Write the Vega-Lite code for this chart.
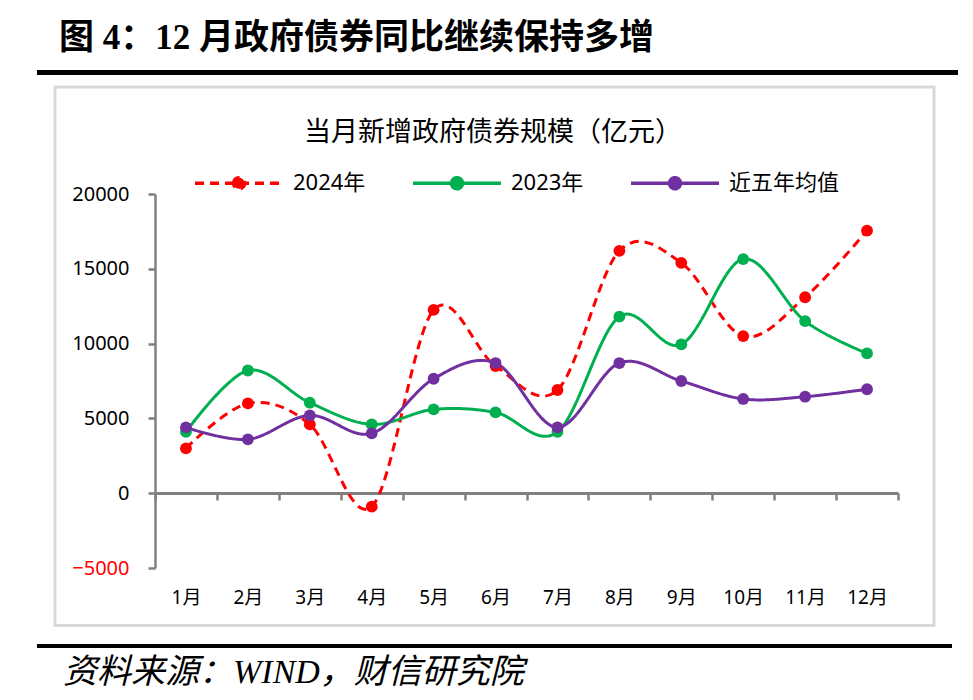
{
  "$schema": "https://vega.github.io/schema/vega-lite/v6.json",
  "description": "当月新增政府债券规模（亿元）",
  "width": 743,
  "height": 374,
  "autosize": {"type": "none"},
  "padding": {"left": 155, "top": 194, "right": 75, "bottom": 132},
  "background": "white",
  "config": {
    "view": {"stroke": null},
    "font": "Noto Sans, Noto Sans CJK SC"
  },
  "datasets": {
    "series": [
      {"月份": "1月", "系列": "2024年", "值": 3000},
      {"月份": "2月", "系列": "2024年", "值": 6000},
      {"月份": "3月", "系列": "2024年", "值": 4600},
      {"月份": "4月", "系列": "2024年", "值": -900},
      {"月份": "5月", "系列": "2024年", "值": 12250},
      {"月份": "6月", "系列": "2024年", "值": 8500},
      {"月份": "7月", "系列": "2024年", "值": 6900},
      {"月份": "8月", "系列": "2024年", "值": 16200},
      {"月份": "9月", "系列": "2024年", "值": 15400},
      {"月份": "10月", "系列": "2024年", "值": 10500},
      {"月份": "11月", "系列": "2024年", "值": 13100},
      {"月份": "12月", "系列": "2024年", "值": 17550},
      {"月份": "1月", "系列": "2023年", "值": 4100},
      {"月份": "2月", "系列": "2023年", "值": 8200},
      {"月份": "3月", "系列": "2023年", "值": 6050},
      {"月份": "4月", "系列": "2023年", "值": 4600},
      {"月份": "5月", "系列": "2023年", "值": 5600},
      {"月份": "6月", "系列": "2023年", "值": 5400},
      {"月份": "7月", "系列": "2023年", "值": 4100},
      {"月份": "8月", "系列": "2023年", "值": 11800},
      {"月份": "9月", "系列": "2023年", "值": 9950},
      {"月份": "10月", "系列": "2023年", "值": 15650},
      {"月份": "11月", "系列": "2023年", "值": 11500},
      {"月份": "12月", "系列": "2023年", "值": 9350},
      {"月份": "1月", "系列": "近五年均值", "值": 4400},
      {"月份": "2月", "系列": "近五年均值", "值": 3600},
      {"月份": "3月", "系列": "近五年均值", "值": 5200},
      {"月份": "4月", "系列": "近五年均值", "值": 4000},
      {"月份": "5月", "系列": "近五年均值", "值": 7650},
      {"月份": "6月", "系列": "近五年均值", "值": 8700},
      {"月份": "7月", "系列": "近五年均值", "值": 4400},
      {"月份": "8月", "系列": "近五年均值", "值": 8700},
      {"月份": "9月", "系列": "近五年均值", "值": 7500},
      {"月份": "10月", "系列": "近五年均值", "值": 6300},
      {"月份": "11月", "系列": "近五年均值", "值": 6450},
      {"月份": "12月", "系列": "近五年均值", "值": 6950}
    ],
    "texts": [
      {"位置": "header", "文本": "图 4：12 月政府债券同比继续保持多增"},
      {"位置": "chart", "文本": "当月新增政府债券规模（亿元）"},
      {"位置": "footer", "文本": "资料来源：WIND，财信研究院"}
    ]
  },
  "layer": [
    {
      "data": {"name": "texts"},
      "layer": [
        {
          "transform": [{"filter": "datum['位置'] == 'chart'"}],
          "mark": {"type": "rect", "fill": "transparent", "stroke": "#d9d9d9", "strokeWidth": 3},
          "encoding": {
            "x": {"datum": -1.115, "type": "quantitative", "scale": {"domain": [0.5, 12.5], "nice": false, "zero": false}, "axis": null},
            "x2": {"datum": 13.081},
            "y": {"datum": 27152, "type": "quantitative"},
            "y2": {"datum": -8844}
          }
        },
        {
          "transform": [{"filter": "datum['位置'] == 'header'"}],
          "mark": {"type": "rule", "stroke": "black", "strokeWidth": 5},
          "encoding": {
            "x": {"datum": -1.406, "type": "quantitative", "axis": null},
            "x2": {"datum": 13.469},
            "y": {"datum": 28122, "type": "quantitative"}
          }
        },
        {
          "transform": [{"filter": "datum['位置'] == 'footer'"}],
          "mark": {"type": "rule", "stroke": "black", "strokeWidth": 4},
          "encoding": {
            "x": {"datum": -1.406, "type": "quantitative", "axis": null},
            "x2": {"datum": 13.372},
            "y": {"datum": -10214, "type": "quantitative"}
          }
        },
        {
          "transform": [{"filter": "datum['位置'] == 'header'"}],
          "mark": {"type": "text", "align": "left", "baseline": "middle", "font": "Liberation Serif, Noto Sans CJK SC", "fontSize": 35, "fontWeight": "bold", "color": "black"},
          "encoding": {
            "x": {"datum": -1.05, "type": "quantitative", "axis": null},
            "y": {"datum": 30428, "type": "quantitative"},
            "text": {"field": "文本"}
          }
        },
        {
          "transform": [{"filter": "datum['位置'] == 'chart'"}],
          "mark": {"type": "text", "align": "center", "baseline": "middle", "font": "Noto Sans CJK SC", "fontSize": 27, "color": "black"},
          "encoding": {
            "x": {"datum": 5.959, "type": "quantitative", "axis": null},
            "y": {"datum": 24078, "type": "quantitative"},
            "text": {"field": "文本"}
          }
        },
        {
          "transform": [{"filter": "datum['位置'] == 'footer'"}],
          "mark": {"type": "text", "align": "left", "baseline": "middle", "font": "Liberation Serif, Noto Sans CJK SC", "fontSize": 34, "fontStyle": "italic", "color": "black"},
          "encoding": {
            "x": {"datum": -0.986, "type": "quantitative", "axis": null},
            "y": {"datum": -12019, "type": "quantitative"},
            "text": {"field": "文本"}
          }
        }
      ]
    },
    {
      "data": {"name": "series"},
      "mark": {
        "type": "line",
        "interpolate": "cardinal",
        "tension": 0,
        "strokeWidth": 3,
        "point": {"filled": true, "size": 140, "opacity": 1}
      },
      "encoding": {
        "x": {
          "field": "月份",
          "type": "ordinal",
          "sort": ["1月", "2月", "3月", "4月", "5月", "6月", "7月", "8月", "9月", "10月", "11月", "12月"],
          "scale": {"type": "band", "paddingInner": 0, "paddingOuter": 0},
          "axis": {
            "title": null,
            "orient": "bottom",
            "offset": -75,
            "tickBand": "extent",
            "domainColor": "#808080",
            "domainWidth": 3,
            "tickColor": "#808080",
            "tickWidth": 2.5,
            "tickSize": 7,
            "labelPadding": 97,
            "labelBaseline": "middle",
            "labelAngle": 0,
            "labelFontSize": 19,
            "labelFont": "Noto Sans, Noto Sans CJK SC",
            "labelColor": "black"
          }
        },
        "y": {
          "field": "值",
          "type": "quantitative",
          "scale": {"domain": [-5000, 20000], "nice": false},
          "axis": {
            "title": null,
            "values": [-5000, 0, 5000, 10000, 15000, 20000],
            "format": "d",
            "grid": false,
            "domainColor": "#808080",
            "domainWidth": 2.5,
            "tickColor": "#808080",
            "tickWidth": 2.5,
            "tickSize": 7,
            "labelPadding": 19,
            "labelFontSize": 20,
            "labelFont": "Noto Sans",
            "labelOverlap": false,
            "labelColor": {"expr": "datum.value < 0 ? '#ff0000' : '#000000'"}
          }
        },
        "color": {
          "field": "系列",
          "type": "nominal",
          "scale": {"domain": ["2024年", "2023年", "近五年均值"], "range": ["#ff0000", "#00b050", "#7030a0"]},
          "legend": {
            "orient": "none",
            "legendX": 38,
            "legendY": -57,
            "direction": "horizontal",
            "title": null,
            "padding": 0,
            "symbolType": "M-1,0H1M-0.125,0A0.125,0.125,0,1,1,0.125,0A0.125,0.125,0,1,1,-0.125,0Z",
            "symbolSize": 7744,
            "symbolStrokeWidth": 3.5,
            "labelFontSize": 22,
            "labelFont": "Noto Sans, Noto Sans CJK SC",
            "labelColor": "black",
            "labelOffset": 8,
            "columnPadding": 40,
            "encode": {
              "symbols": {
                "update": {
                  "fill": {"scale": "color", "field": "value"},
                  "stroke": {"scale": "color", "field": "value"},
                  "strokeDash": {"signal": "datum.value === '2024年' ? [9, 5] : [1, 0]"},
                  "opacity": {"value": 1}
                }
              }
            }
          }
        },
        "strokeDash": {
          "field": "系列",
          "type": "nominal",
          "scale": {"domain": ["2024年", "2023年", "近五年均值"], "range": [[9, 6], [1, 0], [1, 0]]},
          "legend": null
        }
      }
    }
  ],
  "resolve": {"scale": {"x": "independent"}, "axis": {"x": "independent"}}
}
